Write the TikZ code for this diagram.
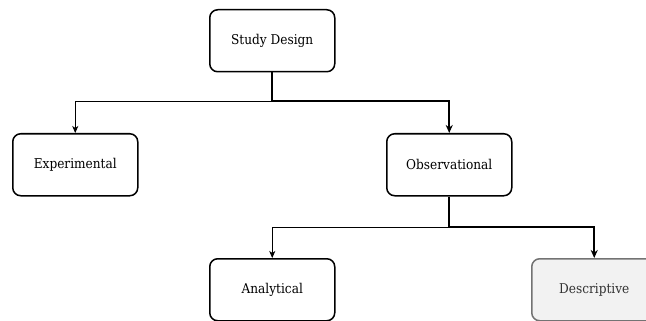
\documentclass[tikz,border=0pt]{standalone}
\usepackage{fontspec}
\setmainfont{DejaVu Serif Condensed}
\usetikzlibrary{arrows.meta}
\begin{document}
\begin{tikzpicture}[x=1pt,y=-1pt,
  box/.style={draw=black,line width=1.5pt,rounded corners=8pt,minimum width=125pt,minimum height=62pt,anchor=north west,fill=white,font=\fontsize{13.5}{16}\selectfont,inner sep=0pt},
  greybox/.style={box,draw=black!55,fill=black!5,text=black!80},
  thin/.style={line width=0.8pt,-{Stealth[length=7pt,width=6pt,inset=2pt]}},
  thick/.style={line width=1.8pt,-{Stealth[length=8pt,width=7pt,inset=2.5pt]}}]
\useasboundingbox (0,0) rectangle (646,321);
\clip (0,0) rectangle (646,321);
\node[box] (sd) at (209,9) {Study Design};
\node[box] (ex) at (12,133) {Experimental};
\node[box] (ob) at (386,133) {Observational};
\node[box] (an) at (209,258) {Analytical};
\node[greybox] (de) at (531,258) {Descriptive};
\coordinate (j1) at (272,101);
\coordinate (j2) at (448,227);
\draw[thin] (j1) -| (ex.north);
\draw[thick] (sd.south) |- (j1) -| (ob.north);
\draw[thin] (j2) -| (an.north);
\draw[thick] (ob.south) |- (j2) -| (de.north);
\end{tikzpicture}
\end{document}
